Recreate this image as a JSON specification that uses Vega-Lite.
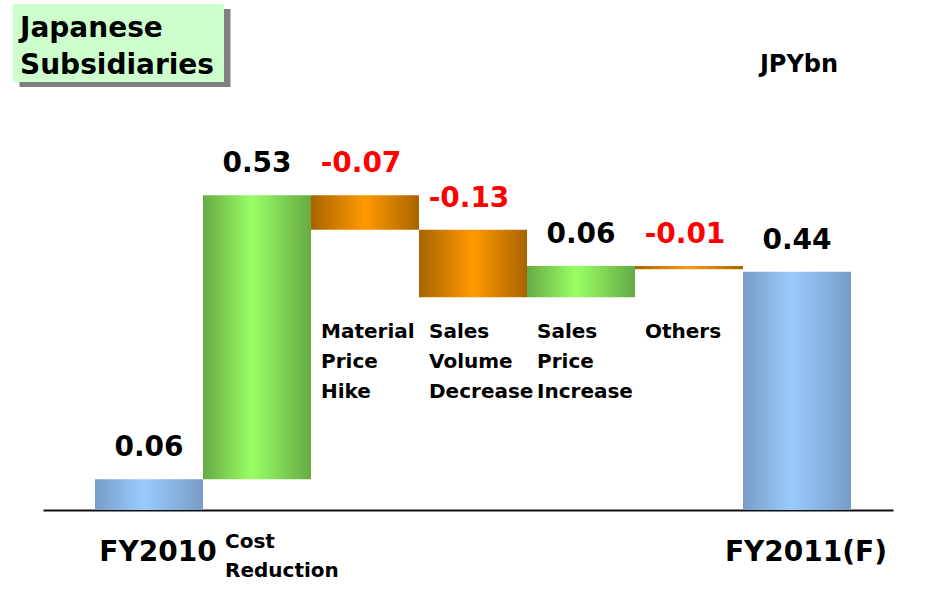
{
  "$schema": "https://vega.github.io/schema/vega-lite/v6.json",
  "width": 944,
  "height": 510,
  "autosize": "none",
  "padding": {"left": 0, "top": 0, "right": 0, "bottom": 96},
  "background": "white",
  "config": {
    "view": {"stroke": null},
    "font": "DejaVu Sans",
    "axisX": {"labels": false, "ticks": false, "grid": false, "domainColor": "#111111", "domainWidth": 2}
  },
  "data": {
    "values": [
      {"item": "FY2010", "start": 0, "end": 0.057, "label": "0.06", "kind": "total", "name": "FY2010"},
      {"item": "Cost Reduction", "start": 0.057, "end": 0.583, "label": "0.53", "kind": "up", "name": "Cost\nReduction"},
      {"item": "Material Price Hike", "start": 0.583, "end": 0.519, "label": "-0.07", "kind": "down", "name": "Material\nPrice\nHike"},
      {"item": "Sales Volume Decrease", "start": 0.519, "end": 0.394, "label": "-0.13", "kind": "down", "name": "Sales\nVolume\nDecrease"},
      {"item": "Sales Price Increase", "start": 0.394, "end": 0.452, "label": "0.06", "kind": "up", "name": "Sales\nPrice\nIncrease"},
      {"item": "Others", "start": 0.452, "end": 0.446, "label": "-0.01", "kind": "down", "name": "Others"},
      {"item": "FY2011(F)", "start": 0, "end": 0.441, "label": "0.44", "kind": "total", "name": "FY2011(F)"}
    ]
  },
  "layer": [
    {
      "transform": [{"filter": "datum.kind === 'total'"}],
      "mark": {"type": "bar", "fill": {"gradient": "linear", "x1": 0, "x2": 1, "y1": 0, "y2": 0, "stops": [{"offset": 0, "color": "#789cc6"}, {"offset": 0.45, "color": "#99ccff"}, {"offset": 1, "color": "#789cc6"}]}},
      "encoding": {
        "x": {"field": "item", "type": "nominal", "title": null, "scale": {"domain": ["FY2010", "Cost Reduction", "Material Price Hike", "Sales Volume Decrease", "Sales Price Increase", "Others", "FY2011(F)"], "range": [43, 893], "paddingInner": 0, "paddingOuter": 0.4352, "align": 0.5532}},
        "y": {"field": "start", "type": "quantitative", "axis": null, "scale": {"domain": [0, 0.9444], "nice": false, "zero": false}},
        "y2": {"field": "end"}
      }
    },
    {
      "transform": [{"filter": "datum.kind === 'up'"}],
      "mark": {"type": "bar", "fill": {"gradient": "linear", "x1": 0, "x2": 1, "y1": 0, "y2": 0, "stops": [{"offset": 0, "color": "#66aa44"}, {"offset": 0.45, "color": "#99ff66"}, {"offset": 1, "color": "#66aa44"}]}},
      "encoding": {
        "x": {"field": "item", "type": "nominal", "title": null},
        "y": {"field": "start", "type": "quantitative", "axis": null},
        "y2": {"field": "end"}
      }
    },
    {
      "transform": [{"filter": "datum.kind === 'down'"}],
      "mark": {"type": "bar", "fill": {"gradient": "linear", "x1": 0, "x2": 1, "y1": 0, "y2": 0, "stops": [{"offset": 0, "color": "#a86400"}, {"offset": 0.5, "color": "#ff9900"}, {"offset": 1, "color": "#a86400"}]}},
      "encoding": {
        "x": {"field": "item", "type": "nominal", "title": null},
        "y": {"field": "start", "type": "quantitative", "axis": null},
        "y2": {"field": "end"}
      }
    },
    {
      "transform": [{"filter": "datum.kind !== 'down'"}],
      "mark": {"type": "text", "fontSize": 28, "fontWeight": "bold", "baseline": "alphabetic", "align": "center", "dy": -23, "color": "#000000"},
      "encoding": {
        "x": {"field": "item", "type": "nominal", "title": null},
        "y": {"field": "end", "type": "quantitative", "axis": null},
        "text": {"field": "label"}
      }
    },
    {
      "transform": [{"filter": "datum.kind === 'down'"}],
      "mark": {"type": "text", "fontSize": 28, "fontWeight": "bold", "baseline": "alphabetic", "align": "center", "dy": -23, "dx": -4, "color": "#ff0000"},
      "encoding": {
        "x": {"field": "item", "type": "nominal", "title": null},
        "y": {"field": "start", "type": "quantitative", "axis": null},
        "text": {"field": "label"}
      }
    },
    {
      "transform": [{"filter": {"field": "item", "oneOf": ["Material Price Hike", "Sales Volume Decrease", "Sales Price Increase", "Others"]}}],
      "mark": {"type": "text", "fontSize": 20, "fontWeight": "bold", "baseline": "alphabetic", "align": "left", "dx": 10, "lineBreak": "\n", "lineHeight": 30, "color": "#000000"},
      "encoding": {
        "x": {"field": "item", "type": "nominal", "title": null, "bandPosition": 0},
        "y": {"datum": 0.319, "type": "quantitative", "axis": null},
        "text": {"field": "name"}
      }
    },
    {
      "transform": [{"filter": "datum.item === 'Cost Reduction'"}],
      "mark": {"type": "text", "fontSize": 20, "fontWeight": "bold", "baseline": "alphabetic", "align": "left", "dx": 22, "lineBreak": "\n", "lineHeight": 29, "color": "#000000"},
      "encoding": {
        "x": {"field": "item", "type": "nominal", "title": null, "bandPosition": 0},
        "y": {"datum": -0.0704, "type": "quantitative", "axis": null},
        "text": {"field": "name"}
      }
    },
    {
      "transform": [{"filter": "datum.kind === 'total'"}],
      "mark": {"type": "text", "fontSize": 28, "fontWeight": "bold", "baseline": "alphabetic", "align": "center", "dx": 9, "color": "#000000"},
      "encoding": {
        "x": {"field": "item", "type": "nominal", "title": null},
        "y": {"datum": -0.0944, "type": "quantitative", "axis": null},
        "text": {"field": "name"}
      }
    },
    {
      "data": {"values": [{"t": "box"}]},
      "mark": {"type": "bar", "fill": "#808080", "width": 211, "xOffset": -24},
      "encoding": {
        "x": {"datum": "FY2010", "type": "nominal", "title": null},
        "y": {"datum": 0.9278, "type": "quantitative", "axis": null},
        "y2": {"datum": 0.7833}
      }
    },
    {
      "data": {"values": [{"t": "box"}]},
      "mark": {"type": "bar", "fill": "#ccffcc", "width": 211, "xOffset": -30.5},
      "encoding": {
        "x": {"datum": "FY2010", "type": "nominal", "title": null},
        "y": {"datum": 0.937, "type": "quantitative", "axis": null},
        "y2": {"datum": 0.7926}
      }
    },
    {
      "data": {"values": [{"title": "Japanese\nSubsidiaries"}]},
      "mark": {"type": "text", "fontSize": 28, "fontWeight": "bold", "baseline": "alphabetic", "align": "left", "dx": -129, "lineBreak": "\n", "lineHeight": 37, "color": "#000000"},
      "encoding": {
        "x": {"datum": "FY2010", "type": "nominal", "title": null},
        "y": {"datum": 0.8759, "type": "quantitative", "axis": null},
        "text": {"field": "title"}
      }
    },
    {
      "data": {"values": [{"unit": "JPYbn"}]},
      "mark": {"type": "text", "fontSize": 24, "fontWeight": "bold", "baseline": "alphabetic", "align": "center", "dx": 2, "color": "#000000"},
      "encoding": {
        "x": {"datum": "FY2011(F)", "type": "nominal", "title": null},
        "y": {"datum": 0.8111, "type": "quantitative", "axis": null},
        "text": {"field": "unit"}
      }
    }
  ]
}
